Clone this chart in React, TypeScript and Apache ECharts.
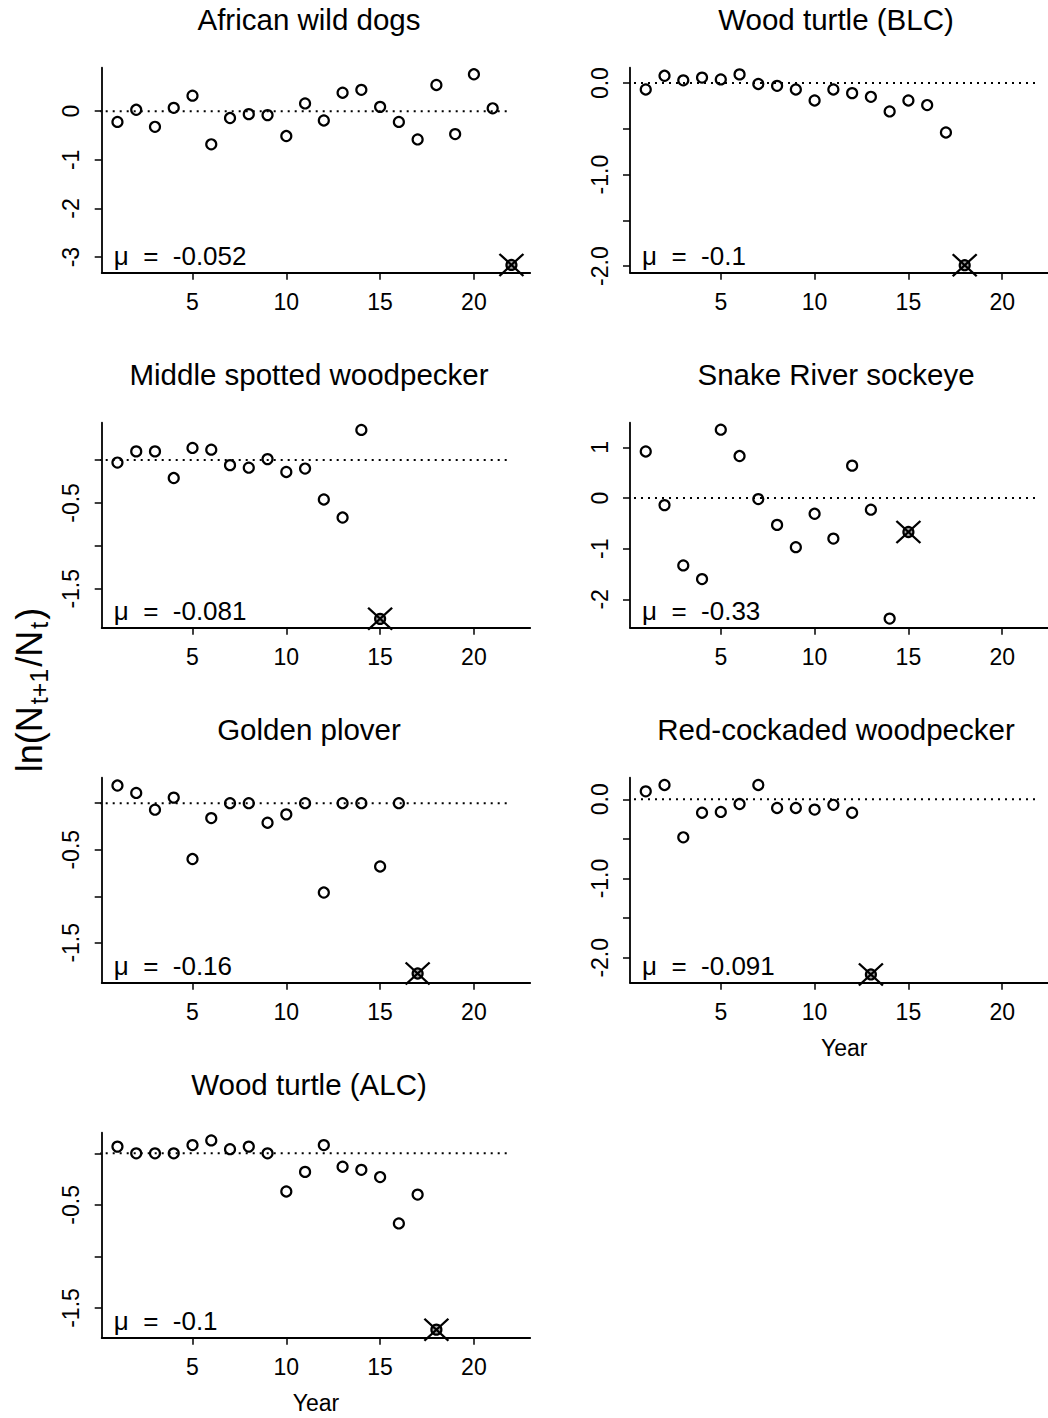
import { useEffect, useRef } from "react";
import * as echarts from "echarts";

// ---------- data ----------
const speciesNames = [
  "African wild dogs",
  "Wood turtle (BLC)",
  "Middle spotted woodpecker",
  "Snake River sockeye",
  "Golden plover",
  "Red-cockaded woodpecker",
  "Wood turtle (ALC)",
];
const muLabels = ["-0.052", "-0.1", "-0.081", "-0.33", "-0.16", "-0.091", "-0.1"];

const africanWildDogs = [-0.22, 0.03, -0.32, 0.07, 0.32, -0.68, -0.14, -0.06, -0.08, -0.51, 0.16, -0.19, 0.38, 0.44, 0.09, -0.22, -0.58, 0.54, -0.47, 0.76, 0.06];
const woodTurtleBLC = [-0.07, 0.08, 0.03, 0.06, 0.04, 0.095, -0.01, -0.03, -0.07, -0.19, -0.07, -0.11, -0.15, -0.31, -0.19, -0.24, -0.54];
const middleSpotted = [-0.03, 0.1, 0.1, -0.21, 0.14, 0.12, -0.06, -0.09, 0.01, -0.14, -0.1, -0.46, -0.67, 0.35];
const snakeRiver = [0.92, -0.14, -1.33, -1.6, 1.35, 0.83, -0.02, -0.53, -0.97, -0.31, -0.8, 0.64, -0.23, -2.38];
const goldenPlover = [0.19, 0.11, -0.07, 0.06, -0.6, -0.16, 0.0, 0.0, -0.21, -0.12, 0.0, -0.96, 0.0, 0.0, -0.68, 0.0];
const redCockaded = [0.1, 0.18, -0.48, -0.17, -0.16, -0.06, 0.18, -0.11, -0.11, -0.13, -0.07, -0.17];
const woodTurtleALC = [0.065, 0.0, 0.0, 0.0, 0.08, 0.125, 0.04, 0.065, 0.0, -0.37, -0.18, 0.08, -0.13, -0.16, -0.23, -0.68, -0.4];

const panelValues = [africanWildDogs, woodTurtleBLC, middleSpotted, snakeRiver, goldenPlover, redCockaded, woodTurtleALC];

const markerYear = [22, 18, 15, 15, 17, 13, 18];
const markerValue = [-3.16, -1.99, -1.85, -0.67, -1.83, -2.21, -1.71];

const yMins = [-3.32, -2.072, -1.953, -2.56, -1.929, -2.314, -1.788];
const yMaxs = [0.895, 0.168, 0.434, 1.488, 0.274, 0.272, 0.2];
const yTickValues = [
  [0, -1, -2, -3],
  [0, -0.5, -1, -1.5, -2],
  [0, -0.5, -1, -1.5],
  [1, 0, -1, -2],
  [0, -0.5, -1, -1.5],
  [0, -0.5, -1, -1.5, -2],
  [0, -0.5, -1, -1.5],
];
const yLabelValues = [
  [0, -1, -2, -3],
  [0, -1, -2],
  [-0.5, -1.5],
  [1, 0, -1, -2],
  [-0.5, -1.5],
  [0, -1, -2],
  [-0.5, -1.5],
];
const yLabelDecimals = [0, 1, 1, 0, 1, 1, 1];

const xTickValues = [5, 10, 15, 20];
const xMin = 0.16;
const xMax = 23.0;
const refLineX = [0, 22];
const xAxisTitle = "Year";
const yAxisTitleParts = ["ln(N", "t+1", "/N", "t", ")"];

// ---------- layout ----------
const FONT = "'Liberation Sans', Arial, Helvetica, sans-serif";
const colLeft = [101.7, 630];
const gridW = 428.5;
const rowTop0 = 67.7;
const rowStep = 355;
const gridH = 205;
const titleX = [309, 836];

function buildOption() {
  const grids: any[] = [];
  const xAxes: any[] = [];
  const yAxes: any[] = [];
  const series: any[] = [];
  const graphics: any[] = [];

  panelValues.forEach((vals, p) => {
    const col = p % 2;
    const row = Math.floor(p / 2);
    const top = rowTop0 + rowStep * row;
    grids.push({ left: colLeft[col], top, width: gridW, height: gridH, containLabel: false });
    const showYear = p === 5 || p === 6;
    xAxes.push({
      type: "value",
      gridIndex: p,
      min: xMin,
      max: xMax,
      splitLine: { show: false },
      axisLine: { show: true, onZero: false, lineStyle: { color: "#000", width: 1.8 } },
      axisTick: { show: true, customValues: xTickValues, length: 7, lineStyle: { color: "#000", width: 1.5 } },
      axisLabel: { customValues: xTickValues, fontSize: 23, color: "#000", margin: 18, fontFamily: FONT },
      name: showYear ? xAxisTitle : "",
      nameLocation: "middle",
      nameGap: 54,
      nameTextStyle: { fontSize: 23, color: "#000", fontFamily: FONT },
    });
    const dec = yLabelDecimals[p];
    yAxes.push({
      type: "value",
      gridIndex: p,
      min: yMins[p],
      max: yMaxs[p],
      splitLine: { show: false },
      axisLine: { show: true, onZero: false, lineStyle: { color: "#000", width: 1.8 } },
      axisTick: { show: true, customValues: yTickValues[p], length: 7, lineStyle: { color: "#000", width: 1.5 } },
      axisLabel: {
        customValues: yLabelValues[p],
        rotate: 90,
        fontSize: 23,
        color: "#000",
        margin: 19,
        fontFamily: FONT,
        formatter: (v: number) => v.toFixed(dec),
      },
    });
    // dotted reference line
    series.push({
      type: "line",
      xAxisIndex: p,
      yAxisIndex: p,
      data: refLineX.map((x) => [x, 0]),
      showSymbol: false,
      clip: false,
      silent: true,
      lineStyle: { color: "#000", width: 2, type: [2, 5] },
      z: 1,
    });
    // points
    series.push({
      type: "scatter",
      xAxisIndex: p,
      yAxisIndex: p,
      data: vals.map((v, i) => [i + 1, v]),
      symbol: "circle",
      symbolSize: 10,
      itemStyle: { color: "rgba(0,0,0,0)", borderColor: "#000", borderWidth: 2.2, opacity: 1 },
      z: 3,
    });
    // final-year marker: large X
    series.push({
      type: "scatter",
      xAxisIndex: p,
      yAxisIndex: p,
      data: [[markerYear[p], markerValue[p]]],
      symbol: "path://M0,0L10,10M10,0L0,10",
      symbolSize: [24, 22],
      clip: false,
      itemStyle: { color: "none", borderColor: "#000", borderWidth: 2.2, opacity: 1 },
      z: 4,
    });
    // final-year marker: circle with cross
    series.push({
      type: "scatter",
      xAxisIndex: p,
      yAxisIndex: p,
      data: [[markerYear[p], markerValue[p]]],
      symbol: "circle",
      symbolSize: 10,
      clip: false,
      itemStyle: { color: "rgba(0,0,0,0.35)", borderColor: "#000", borderWidth: 2.2, opacity: 1 },
      z: 4,
    });

    graphics.push({
      type: "text",
      x: titleX[col],
      y: 19.7 + rowStep * row,
      style: {
        text: speciesNames[p],
        fontSize: 29.5,
        fill: "#000",
        fontFamily: FONT,
        align: "center",
        verticalAlign: "middle",
      },
    });
    graphics.push({
      type: "text",
      x: colLeft[col] + 12,
      y: top + gridH - 16.5,
      style: {
        text: "\u03bc  =  " + muLabels[p],
        fontSize: 26,
        fill: "#000",
        fontFamily: FONT,
        align: "left",
        verticalAlign: "middle",
      },
    });
  });

  graphics.push({
    type: "text",
    x: 29,
    y: 690,
    rotation: Math.PI / 2,
    style: {
      text: `{n|${yAxisTitleParts[0]}}{s|${yAxisTitleParts[1]}}{n|${yAxisTitleParts[2]}}{s|${yAxisTitleParts[3]}}{n|${yAxisTitleParts[4]}}`,
      align: "center",
      verticalAlign: "middle",
      fill: "#000",
      rich: {
        n: { fontSize: 36, fontFamily: FONT, fill: "#000", lineHeight: 44 },
        s: { fontSize: 25, fontFamily: FONT, fill: "#000", verticalAlign: "bottom", padding: [0, 2, 0, 2] },
      },
    },
  });

  return {
    animation: false,
    backgroundColor: "#fff",
    grid: grids,
    xAxis: xAxes,
    yAxis: yAxes,
    series,
    graphic: { elements: graphics },
  };
}

export default function App() {
  const ref = useRef<HTMLDivElement>(null);
  useEffect(() => {
    if (!ref.current) return;
    const chart = echarts.init(ref.current, undefined, { renderer: "svg" });
    chart.setOption(buildOption() as any);
    return () => chart.dispose();
  }, []);
  return (
    <div
      style={{
        position: "absolute",
        left: 0,
        top: 0,
        width: 1048,
        height: 1418,
        overflow: "hidden",
        background: "#fff",
      }}
    >
      <div ref={ref} style={{ width: 1080, height: 1418 }} />
    </div>
  );
}
